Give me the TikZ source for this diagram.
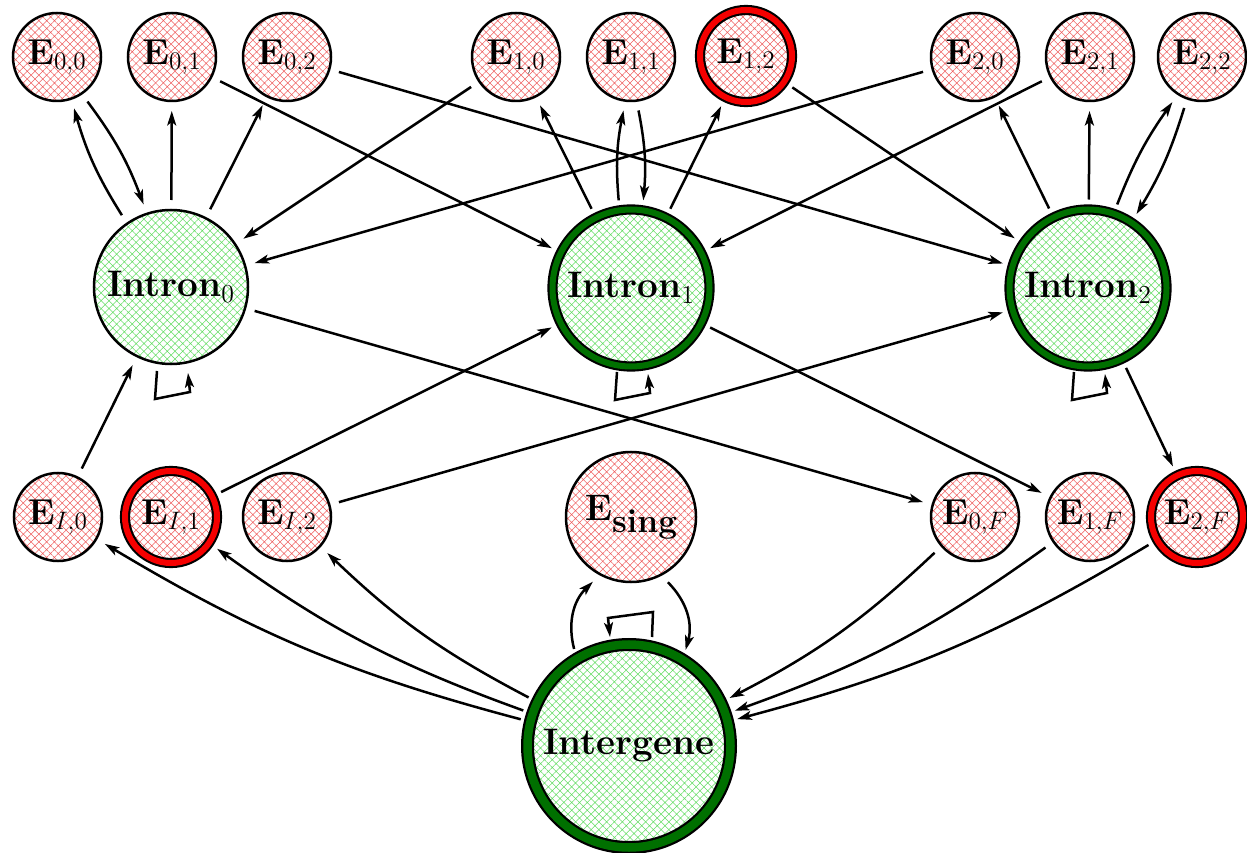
\RequirePackage{fix-cm}
\documentclass[tikz,border=0pt]{standalone}
\usetikzlibrary{arrows.meta,patterns.meta,calc}

\definecolor{hatchred}{RGB}{238,95,95}
\definecolor{hatchgreen}{RGB}{100,220,100}
\definecolor{ringgreen}{RGB}{0,112,0}
\definecolor{ringred}{RGB}{245,0,0}

\tikzset{
  x=0.2mm, y=-0.2mm,
  state/.style={circle, draw=black, line width=0.5mm, inner sep=0pt, outer sep=2mm},
  exon/.style={state, minimum size=17.6mm,
    pattern={Hatch[angle=45,distance=1.1mm,line width=0.3pt]}, pattern color=hatchred,
    font=\fontsize{20.5}{24}\selectfont},
  redexon/.style={exon, minimum size=18.4mm, line width=0.42mm,
    double=ringred, double distance=1.2mm},
  intron/.style={state, minimum size=30.8mm,
    pattern={Hatch[angle=45,distance=1.1mm,line width=0.3pt]}, pattern color=hatchgreen,
    font=\fontsize{21}{25}\selectfont},
  ringintron/.style={intron, minimum size=31.4mm, line width=0.42mm,
    double=ringgreen, double distance=1.2mm},
  edge/.style={line width=0.5mm, -{Stealth[length=2.9mm,width=1.8mm,inset=0.7mm]}},
}

\begin{document}
\begin{tikzpicture}
\useasboundingbox (0,0) rectangle (1247,853);

% exon states of the three frames
\node[exon]    (E00) at (57,57)   {$\mathbf{E}_{0,0}$};
\node[exon]    (E01) at (172,57)  {$\mathbf{E}_{0,1}$};
\node[exon]    (E02) at (287,57)  {$\mathbf{E}_{0,2}$};
\node[exon]    (E10) at (516,57)  {$\mathbf{E}_{1,0}$};
\node[exon]    (E11) at (631,57)  {$\mathbf{E}_{1,1}$};
\node[redexon] (E12) at (746,56)  {$\mathbf{E}_{1,2}$};
\node[exon]    (E20) at (975,57)  {$\mathbf{E}_{2,0}$};
\node[exon]    (E21) at (1090,57) {$\mathbf{E}_{2,1}$};
\node[exon]    (E22) at (1202,57) {$\mathbf{E}_{2,2}$};

% intron states
\node[intron]     (I0) at (171,287)  {\textbf{Intron}$_0$};
\node[ringintron] (I1) at (631,288)  {\textbf{Intron}$_1$};
\node[ringintron] (I2) at (1088,288) {\textbf{Intron}$_2$};

% initial, single and final exons
\node[exon]    (EI0) at (58,517)   {$\mathbf{E}_{I,0}$};
\node[redexon] (EI1) at (171,517)  {$\mathbf{E}_{I,1}$};
\node[exon]    (EI2) at (287,517)  {$\mathbf{E}_{I,2}$};
\node[exon, minimum size=26mm, font=\fontsize{21}{25}\selectfont]
               (ES)  at (631,517)
               {$\mathbf{E}$\raisebox{-0.32em}{\fontsize{19}{22}\selectfont\bfseries sing}};
\node[exon]    (E0F) at (975,517)  {$\mathbf{E}_{0,F}$};
\node[exon]    (E1F) at (1090,517) {$\mathbf{E}_{1,F}$};
\node[redexon] (E2F) at (1197,517) {$\mathbf{E}_{2,F}$};

% intergenic state
\node[intron, minimum size=40.6mm, line width=0.45mm,
      double=ringgreen, double distance=1.7mm] (IG) at (629,746) {\textbf{Intergene}};

% intron 0
\draw[edge] (I0) to[bend left=8] (E00);
\draw[edge] (E00) to[bend left=8] (I0);
\draw[edge] (I0) -- (E01);
\draw[edge] (I0) -- (E02);
\draw[edge] (E10) -- (I0);
\draw[edge] (E20) -- (I0);
\draw[edge] (I0) -- (E0F);
\draw[edge] (EI0) -- (I0);

% intron 1
\draw[edge] (E01) -- (I1);
\draw[edge] (I1) -- (E10);
\draw[edge] (I1) to[bend left=8] (E11);
\draw[edge] (E11) to[bend left=8] (I1);
\draw[edge] (I1) -- (E12);
\draw[edge] (E21) -- (I1);
\draw[edge] (I1) -- (E1F);
\draw[edge] (EI1) -- (I1);

% intron 2
\draw[edge] (E02) -- (I2);
\draw[edge] (E12) -- (I2);
\draw[edge] (I2) -- (E20);
\draw[edge] (I2) -- (E21);
\draw[edge] (I2) to[bend left=7] (E22);
\draw[edge] (E22) to[bend left=7] (I2);
\draw[edge] (I2) -- (E2F);
\draw[edge] (EI2) -- (I2);

% self loops of the introns
\foreach \n in {I0,I1,I2}
  \draw[edge] ($(\n)+(-14,84)$) -- ($(\n)+(-16,112)$) -- ($(\n)+(19,105)$) -- ($(\n)+(17,86)$);

% intergene
\draw[edge] (IG) to[bend left=8] (EI0);
\draw[edge] (IG) to[bend left=8] (EI1);
\draw[edge] (IG) to[bend left=8] (EI2);
\draw[edge] (E0F) to[bend left=8] (IG);
\draw[edge] (E1F) to[bend left=8] (IG);
\draw[edge] (E2F) to[bend left=8] (IG);
\draw[edge] (IG) to[bend left=30] (ES);
\draw[edge] (ES) to[bend left=30] (IG);
\draw[edge] ($(IG)+(23,-109)$) -- ($(IG)+(24,-134)$) -- ($(IG)+(-21,-128)$) -- ($(IG)+(-19,-109)$);
\end{tikzpicture}
\end{document}
